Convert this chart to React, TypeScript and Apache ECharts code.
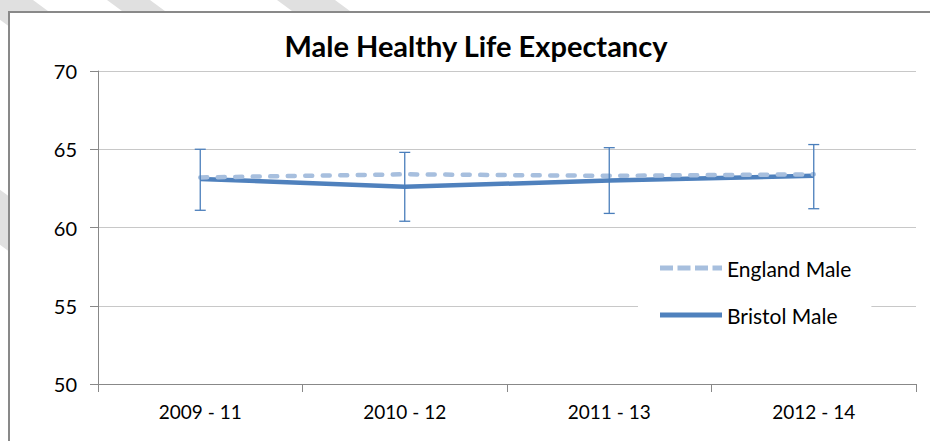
import React, { useEffect, useRef } from "react";
import * as echarts from "echarts";

const categories = ["2009 - 11", "2010 - 12", "2011 - 13", "2012 - 14"];
const englandMale = [63.2, 63.4, 63.3, 63.4];
const bristolMale = [63.1, 62.6, 63.0, 63.3];
const bristolLower = [61.1, 60.4, 60.9, 61.2];
const bristolUpper = [65.0, 64.8, 65.1, 65.3];
const yTicks = [50, 55, 60, 65, 70];

const FONT = "Lato";

const ENGLAND_ICON =
  "path://M0,0h13v5h-13z M17.5,0h13v5h-13z M35,0h13v5h-13z M52.5,0h9.5v5h-9.5z";
const BRISTOL_ICON = "path://M0,0h62v5h-62z";

function band(x0: number, x1: number) {
  const k = 1.36;
  const h = 441;
  return {
    type: "polygon",
    z: -10,
    silent: true,
    shape: {
      points: [
        [x0, 0],
        [x1, 0],
        [x1 + h * k, h],
        [x0 + h * k, h],
      ],
    },
    style: { fill: "#e0e0e0" },
  };
}

export default function App() {
  const ref = useRef<HTMLDivElement>(null);
  useEffect(() => {
    if (!ref.current) return;
    const chart = echarts.init(ref.current, null, { renderer: "svg" });
    const errData = categories.map((_, i) => [i, bristolLower[i], bristolUpper[i]]);
    chart.setOption({
      animation: false,
      backgroundColor: "#ffffff",
      title: {
        text: "Male Healthy Life Expectancy",
        left: 471,
        textAlign: "center",
        top: 26,
        textStyle: { fontFamily: FONT, fontSize: 29, fontWeight: "bold", color: "#000" },
      },
      graphic: [
        band(-27, 33),
        band(107, 150),
        band(277, 335),
        band(-333, -258),
        {
          type: "rect",
          z: -5,
          silent: true,
          shape: { x: 9, y: 12, width: 1000, height: 600 },
          style: { fill: "#ffffff", stroke: "#898989", lineWidth: 2 },
        },
      ],
      grid: { left: 98, right: 14, top: 71, bottom: 57, containLabel: false },
      xAxis: {
        type: "category",
        data: categories,
        boundaryGap: true,
        axisLine: { show: true, lineStyle: { color: "#888888", width: 1 } },
        axisTick: { show: true, length: 8, lineStyle: { color: "#888888" } },
        axisLabel: { fontFamily: FONT, fontSize: 19, color: "#000", margin: 18 },
        splitLine: { show: false },
      },
      yAxis: {
        type: "value",
        min: yTicks[0],
        max: yTicks[yTicks.length - 1],
        interval: 5,
        axisLine: { show: true, lineStyle: { color: "#888888", width: 1 } },
        axisTick: { show: true, length: 8, lineStyle: { color: "#888888" } },
        axisLabel: { fontFamily: FONT, fontSize: 20, color: "#000", margin: 21 },
        splitLine: { show: true, lineStyle: { color: "#c8c8c8", width: 1 } },
      },
      legend: {
        data: [
          { name: "England Male", icon: ENGLAND_ICON },
          { name: "Bristol Male", icon: BRISTOL_ICON },
        ],
        orient: "vertical",
        left: 638,
        top: 245,
        padding: [10, 20, 10, 22],
        backgroundColor: "#ffffff",
        itemWidth: 62,
        itemHeight: 5,
        itemGap: 21,
        textStyle: { fontFamily: FONT, fontSize: 21, color: "#000", lineHeight: 26 },
      },
      series: [
        {
          name: "Bristol Male",
          type: "line",
          data: bristolMale,
          symbol: "none",
          z: 3,
          lineStyle: { color: "#4f81bd", width: 4.5 },
          itemStyle: { color: "#4f81bd" },
        },
        {
          name: "England Male",
          type: "line",
          data: englandMale,
          symbol: "none",
          z: 4,
          lineStyle: { color: "#a7bfde", width: 4.5, type: [7, 10.5], cap: "round" },
          itemStyle: { color: "#a7bfde" },
        },
        {
          name: "Bristol CI",
          type: "custom",
          data: errData,
          encode: { x: 0, y: [1, 2] },
          z: 5,
          renderItem: (params: any, api: any) => {
            const lo = api.coord([api.value(0), api.value(1)]);
            const hi = api.coord([api.value(0), api.value(2)]);
            const w = 5.5;
            const style = { stroke: "#4a7ebb", lineWidth: 1.3 };
            return {
              type: "group",
              children: [
                { type: "line", shape: { x1: lo[0], y1: lo[1], x2: hi[0], y2: hi[1] }, style },
                { type: "line", shape: { x1: lo[0] - w, y1: lo[1], x2: lo[0] + w, y2: lo[1] }, style },
                { type: "line", shape: { x1: hi[0] - w, y1: hi[1], x2: hi[0] + w, y2: hi[1] }, style },
              ],
            };
          },
        },
      ],
    });
    return () => chart.dispose();
  }, []);
  return (
    <div
      ref={ref}
      style={{ position: "fixed", left: 0, top: 0, width: 930, height: 441 }}
    />
  );
}
